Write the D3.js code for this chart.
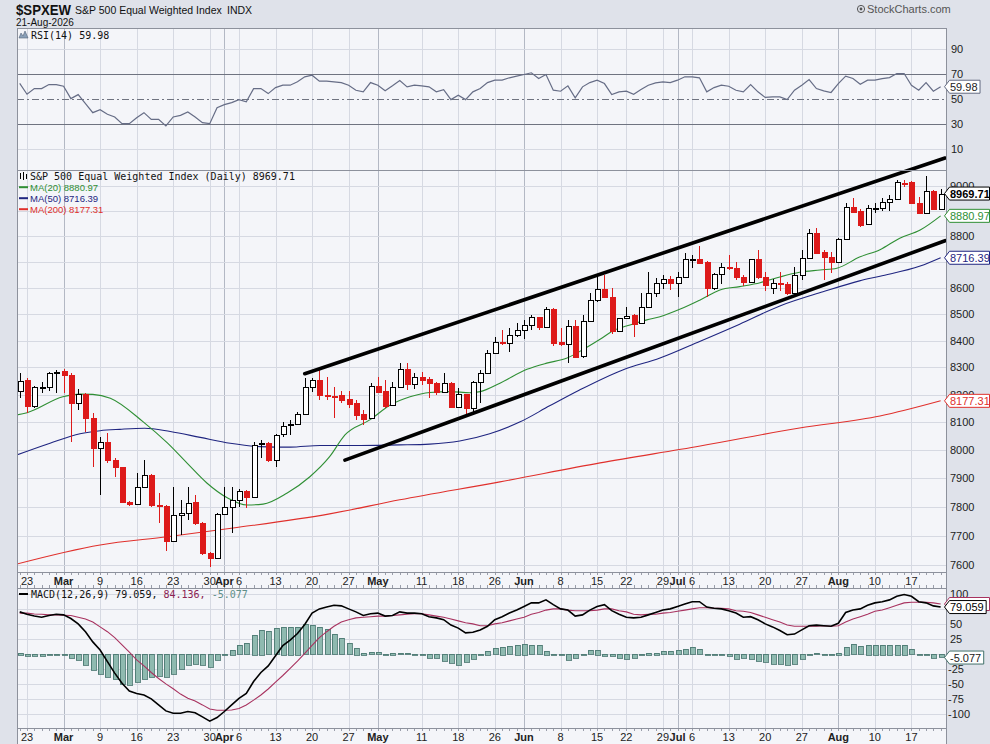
<!DOCTYPE html>
<html>
<head>
<meta charset="utf-8">
<script src="https://cdn.jsdelivr.net/npm/d3@7/dist/d3.min.js"></script>
<style>
  html, body { margin: 0; padding: 0; background: #dfe2ea; }
  svg { display: block; font-family: "Liberation Sans", Arial, sans-serif; }
  .mono { font-family: "DejaVu Sans Mono", monospace; font-size: 10px; }
</style>
</head>
<body>
<svg id="chart" width="990" height="744"></svg>
<script>
/* === $SPXEW daily candles with RSI / MA / MACD === */

// Day index 0 = 20-Feb-2026 ... 126 = 21-Aug-2026 (trading days only)
const tickLabels = [
  [1, "23", false], [6, "Mar", true], [11, "9", false], [16, "16", false], [21, "23", false],
  [26, "30", false], [28, "Apr", true], [30, "6", false], [35, "13", false], [40, "20", false],
  [45, "27", false], [49, "May", true], [55, "11", false], [60, "18", false], [65, "26", false],
  [69, "Jun", true], [74, "8", false], [79, "15", false], [83, "22", false], [88, "29", false],
  [90, "Jul", true], [92, "6", false], [97, "13", false], [102, "20", false], [107, "27", false],
  [112, "Aug", true], [117, "10", false], [122, "17", false]
];

// [open, high, low, close]
const ohlc = [
  [8214,8279,8187,8251],[8254,8261,8133,8160],[8160,8232,8152,8227],[8227,8248,8205,8229],[8229,8285,8214,8279],
  [8279,8291,8205,8285],[8287,8293,8206,8272],[8272,8280,8030,8168],[8168,8219,8145,8202],[8202,8205,8065,8114],
  [8114,8132,7940,8006],[8006,8048,7841,8030],[8030,8060,7952,7964],[7964,7971,7905,7938],[7938,7940,7812,7817],
  [7817,7820,7803,7809],[7809,7917,7805,7870],[7870,7964,7868,7911],[7911,7913,7800,7806],[7806,7847,7743,7802],
  [7802,7806,7649,7683],[7683,7870,7680,7771],[7771,7823,7702,7779],[7779,7870,7754,7814],[7817,7841,7738,7744],
  [7744,7746,7634,7640],[7640,7645,7594,7623],[7623,7778,7620,7775],[7775,7870,7771,7800],[7800,7870,7708,7823],
  [7823,7861,7800,7856],[7856,7857,7795,7835],[7835,8030,7835,8018],[8022,8036,7971,8025],[8025,8030,7958,7964],
  [7964,8056,7938,8054],[8058,8101,8045,8086],[8089,8108,8054,8093],[8093,8137,8090,8129],[8129,8260,8126,8227],
  [8227,8260,8211,8254],[8254,8303,8181,8199],[8199,8266,8181,8196],[8196,8229,8114,8195],[8199,8213,8168,8181],
  [8184,8213,8150,8166],[8168,8181,8108,8126],[8129,8144,8090,8110],[8114,8242,8112,8232],[8232,8266,8205,8211],
  [8213,8254,8150,8159],[8163,8248,8160,8227],[8227,8318,8227,8293],[8293,8316,8217,8238],[8238,8281,8219,8264],
  [8264,8285,8235,8254],[8257,8266,8187,8244],[8244,8248,8199,8211],[8211,8279,8211,8242],[8244,8246,8150,8154],
  [8154,8223,8150,8202],[8202,8204,8126,8150],[8150,8250,8126,8248],[8248,8291,8168,8281],[8281,8365,8279,8355],
  [8355,8415,8353,8393],[8396,8440,8383,8390],[8390,8446,8358,8421],[8421,8465,8415,8440],[8440,8478,8405,8459],
  [8459,8497,8440,8488],[8488,8490,8440,8450],[8450,8528,8446,8518],[8518,8522,8380,8392],[8396,8446,8380,8387],
  [8387,8478,8315,8455],[8455,8478,8336,8340],[8342,8497,8336,8475],[8475,8580,8472,8554],[8554,8650,8547,8595],
  [8595,8650,8560,8566],[8566,8598,8425,8437],[8437,8486,8432,8484],[8484,8528,8480,8493],[8497,8499,8415,8462],
  [8465,8580,8462,8526],[8526,8663,8522,8580],[8580,8637,8566,8618],[8618,8650,8595,8633],[8633,8646,8592,8620],
  [8620,8663,8566,8643],[8643,8734,8641,8710],[8708,8727,8676,8712],[8710,8761,8692,8695],[8701,8703,8564,8598],
  [8598,8656,8592,8654],[8654,8695,8615,8680],[8682,8727,8669,8676],[8676,8701,8630,8641],[8641,8650,8607,8624],
  [8624,8712,8622,8710],[8710,8746,8633,8643],[8643,8663,8589,8611],[8598,8633,8576,8620],[8620,8663,8589,8615],
  [8615,8624,8573,8581],[8581,8682,8578,8650],[8650,8746,8630,8714],[8714,8828,8710,8812],[8812,8832,8734,8736],
  [8740,8746,8630,8718],[8718,8740,8656,8701],[8701,8793,8699,8789],[8789,8931,8786,8917],[8917,8951,8895,8897],
  [8901,8907,8835,8844],[8847,8924,8844,8911],[8909,8931,8893,8913],[8913,8951,8901,8935],[8935,8964,8901,8947],
  [8947,9024,8944,9017],[9014,9024,8997,9011],[9017,9020,8928,8931],[8931,8957,8888,8891],[8891,9040,8888,8981],
  [8981,8983,8905,8907],[8907,8987,8905,8969.71]
];

// moving averages: [day index, value]
const ma20 = [
  [-0.4,8126],[1,8134],[5.9,8192],[8.25,8202],[10,8201],[12.4,8187],[16.9,8101],[20.2,8025],[22.9,7953],
  [25.6,7883],[28.4,7831],[31.1,7806],[33.3,7809],[36.6,7848],[39.7,7905],[42.4,7976],[44.5,8054],[47.9,8108],
  [50.7,8162],[53.4,8192],[56.1,8208],[58.9,8211],[61.6,8207],[63,8211],[65.7,8242],[69.4,8293],[72.1,8316],
  [74.8,8334],[77.6,8375],[79.4,8405],[81.2,8437],[83.5,8459],[85.8,8478],[87.6,8490],[90.3,8518],[93.1,8554],
  [95.8,8592],[98.5,8605],[101.3,8620],[104,8642],[106.7,8660],[109.5,8669],[111.8,8676],[114.9,8719],
  [117.7,8748],[120.4,8793],[123.2,8825],[126,8880.97]
];
const ma50 = [
  [-0.4,7982],[4.15,8024],[8.25,8058],[11,8069],[13.7,8074],[17.1,8078],[20.6,8066],[24.7,8045],[28.8,8024],
  [32.9,8012],[37,8010],[41.1,8016],[46.6,8016],[52,8018],[56.1,8021],[60.2,8032],[64.3,8058],[68.4,8100],
  [72.5,8159],[76.6,8217],[82.5,8291],[87.6,8335],[93.1,8398],[98.5,8462],[104,8531],[109.9,8585],
  [114.9,8627],[117.7,8645],[123.2,8684],[126,8716.39]
];
const ma200 = [
  [-0.4,7603],[11,7668],[20.2,7696],[29.2,7726],[42.4,7775],[52,7824],[65.7,7887],[79.4,7954],
  [93.1,8014],[106.7,8079],[117.7,8122],[126,8177.31]
];

// hand-drawn channel lines: [day index, price]
const channelUpper = [[39.0, 8277], [126.6, 9113]];
const channelLower = [[44.5, 7964], [126.6, 8783]];

const rsi = [
  62.6,54,58.5,58.5,61.7,61.7,60.4,50.5,53.7,46.5,
  39.3,41.7,38,35.9,30.5,30.5,35.3,39.3,34,34,
  28.7,35.9,37.2,39.9,35.9,31.3,30.5,43.3,45.7,47.3,
  49.7,47.9,58.5,58.5,54.5,59.3,61.2,61.2,63.9,67.9,
  69.2,64.4,64.4,63.9,63.3,61.2,57.2,55.9,63.3,61.2,
  56.7,60.7,64.9,59.9,61.2,60.7,59.9,55.9,57.7,49.7,
  53.2,49.7,55.9,58.5,63.3,65.2,65.2,67.1,68.4,69.7,
  71.1,66.5,69.7,57.2,56.4,60.7,51.1,59.9,63.3,65.2,
  62.5,53.7,55.9,56.4,54,57.7,61.2,63.1,63.9,63.3,
  65.2,67.9,67.9,67.1,55.9,59.3,61.2,60.4,57.2,55.9,
  61.7,55.9,51.5,51.9,51.9,49.7,57.2,61.2,65.7,58.5,
  56.7,55.4,62.5,68.4,66.5,62,65.2,65.2,66.5,67.3,
  70.5,70.5,61.2,57.2,63.3,56.4,59.98
];

const macd = [
  71,67,64,62,65,67,66,60,51,38,
  21,7.5,-12,-31,-48,-61,-65,-67.5,-74,-84,
  -94,-98,-98,-95,-97,-104,-111,-105,-95,-84,
  -73,-65,-45,-30,-19,-2,15,24,35,50,
  69,76,79,82,81,76,71,65,68,69,
  64,65,71,69,69,68,63,61,58,49,
  44,36,37,41,47,58,63,69,74,80,
  86,86,91,83,76,74,64,66,74,80,
  83,73,67,62,61,62,66,70,74,76,
  80,84,88,88,79,77,76,73,69,62,
  63,58,51,46,40,33,34,41,48,49,
  48,47,52,70,74,76,82,86,88,91,
  97,100,97,88,86,81,79.059
];
const signal = [
  69,69,67.5,67,66,66,65.5,65,62,59,
  54,46,38,28,16,4,-9,-19,-30,-40,
  -49,-57,-66,-73,-77.5,-84,-91,-93,-93,-92.5,
  -90,-84,-76,-67.5,-57.5,-46,-35,-23,-11,2,
  15,28,38,47,54,58,61,62,63,64,
  64,65,66,67,68,68,66,64,62,59,
  56,53,51,48,48,51,53,56,59,62,
  67,70,74,76,76,74,73,73,73,74,
  76,76,73,71,67,66,67,67,69,70,
  72,74,76,78,78,77,77,76,73,72,
  70,66,62,58,54,49,47,47,47,47,
  48,47,48,54,59,63,67,72,74,78,
  82,86,87,87,87,86,84.136
];
const hist = [
  3,-3,-3,-3,-1,-1,-1,-7,-10,-18,
  -27,-33,-38,-42,-50,-51,-47,-42,-39,-36,
  -39,-33,-25,-18,-17,-19,-22,-10,0,8,
  15,19,33,41,39,44,46,46,46,50,
  49,45,42,34,27,19,11,3,4,4,
  0,3,2,2,0,-1,-6,-6,-12,-15,
  -18,-14,-8,-2,6,10,13,14,16,18,
  15,15,6,-1,-2,-10,-7,-1,7,8,
  -3,-4,-7,-8,-7,-2,3,3,5,5,
  7,9,12,9,0,-2,-2,-4,-9,-7,
  -9,-11,-14,-16,-17,-19,-16,-9,0,2,
  0,-1,3,13,17,14,16,16,16,16,
  16,16,9,0,-1,-6,-5.077
];

const priceTicks = [7600, 7700, 7800, 7900, 8000, 8100, 8200, 8300, 8400, 8500, 8600, 8700, 8800, 8900, 9000];
const rsiTicks = [10, 30, 50, 70, 90];
const macdTicks = [-100, -75, -50, -25, 0, 25, 50, 75, 100];

// --- layout ---
const L = 17, R = 946;
const rsiTop = 28, mainTop = 170, mainBot = 572, macdTop = 588, macdBot = 728;
const RED = "#dd1a1a", GREEN = "#2f8f34", NAVY = "#1f2580", MA_RED = "#e0302c";
const PLOT_BG = "#f4f5f9", GRID = "#d6d9e2", GRID_MONTH = "#b3b8c4", FRAME = "#8d919c";

const x = d3.scaleLinear().domain([-0.37, 126.73]).range([L, R]);
const yP = d3.scaleLog().domain([7576, 9064.5]).range([mainBot, mainTop]);
const yR = d3.scaleLinear().domain([-6.4, 106.8]).range([mainTop, rsiTop]);
const yM = d3.scaleLinear().domain([-122.5, 110.8]).range([macdBot, macdTop]);

const px = v => Math.round(v) + 0.5;
const svg = d3.select("#chart");

svg.append("rect").attr("width", 990).attr("height", 744).attr("fill", "#dfe2ea");

// plot backgrounds (incl. date strips)
svg.append("rect").attr("x", L).attr("y", rsiTop).attr("width", R - L).attr("height", macdTop - rsiTop).attr("fill", PLOT_BG);
svg.append("rect").attr("x", L).attr("y", macdTop).attr("width", R - L).attr("height", 744 - macdTop).attr("fill", PLOT_BG);

// --- grid ---
const grid = svg.append("g").attr("shape-rendering", "crispEdges");
tickLabels.forEach(([d, , bold]) => {
  const gx = px(x(d));
  [[rsiTop, mainBot], [macdTop, macdBot]].forEach(([a, b]) => {
    grid.append("line").attr("x1", gx).attr("x2", gx).attr("y1", a).attr("y2", b)
      .attr("stroke", bold ? GRID_MONTH : GRID).attr("stroke-width", 1);
  });
});
priceTicks.forEach(p => {
  grid.append("line").attr("x1", L).attr("x2", R).attr("y1", px(yP(p))).attr("y2", px(yP(p))).attr("stroke", GRID);
});
[10, 90].forEach(v => {
  grid.append("line").attr("x1", L).attr("x2", R).attr("y1", px(yR(v))).attr("y2", px(yR(v))).attr("stroke", GRID);
});
macdTicks.forEach(v => {
  grid.append("line").attr("x1", L).attr("x2", R).attr("y1", px(yM(v))).attr("y2", px(yM(v))).attr("stroke", GRID);
});

// RSI reference lines
[70, 30].forEach(v => {
  grid.append("line").attr("x1", L).attr("x2", R).attr("y1", px(yR(v))).attr("y2", px(yR(v)))
    .attr("stroke", "#6f7380").attr("stroke-width", 1);
});
grid.append("line").attr("x1", L).attr("x2", R).attr("y1", px(yR(50))).attr("y2", px(yR(50)))
  .attr("stroke", "#6f7380").attr("stroke-dasharray", "7,3,2,3");

// --- RSI line ---
svg.append("path")
  .datum(rsi)
  .attr("fill", "none")
  .attr("stroke", "#666d86")
  .attr("stroke-width", 1.2)
  .attr("d", d3.line().x((d, i) => x(i)).y(d => yR(d)));

// --- moving averages ---
const maLine = d3.line().x(d => x(d[0])).y(d => yP(d[1])).curve(d3.curveMonotoneX);
const plotClip = svg.append("clipPath").attr("id", "mainclip");
plotClip.append("rect").attr("x", L).attr("y", mainTop).attr("width", R - L).attr("height", mainBot - mainTop);
const mainG = svg.append("g").attr("clip-path", "url(#mainclip)");

[[ma200, MA_RED], [ma50, NAVY], [ma20, GREEN]].forEach(([s, col]) => {
  mainG.append("path").datum(s).attr("fill", "none").attr("stroke", col).attr("stroke-width", 1.1).attr("d", maLine);
});

// --- candles ---
const candle = mainG.selectAll("g.candle")
  .data(ohlc)
  .join("g")
  .attr("class", "candle")
  .attr("shape-rendering", "crispEdges");

candle.each(function(d, i) {
  const [o, h, l, c] = d;
  const prev = i > 0 ? ohlc[i - 1][3] : o;
  const col = c < prev ? RED : "#000";
  const cx = px(x(i));
  const g = d3.select(this);
  g.append("line").attr("x1", cx).attr("x2", cx).attr("y1", yP(h)).attr("y2", yP(l)).attr("stroke", col);
  const top = Math.round(yP(Math.max(o, c)));
  const bot = Math.round(yP(Math.min(o, c)));
  g.append("rect")
    .attr("x", cx - 2.5)
    .attr("y", top + 0.5)
    .attr("width", 5)
    .attr("height", Math.max(1, bot - top))
    .attr("fill", c < o ? col : "#ffffff")
    .attr("stroke", col);
});

// --- channel lines (drawn over the panel edge like the original) ---
[channelUpper, channelLower].forEach(s => {
  svg.append("line")
    .attr("x1", x(s[0][0])).attr("y1", yP(s[0][1]))
    .attr("x2", x(s[1][0])).attr("y2", yP(s[1][1]))
    .attr("stroke", "#000").attr("stroke-width", 3.6).attr("stroke-linecap", "round");
});

// --- MACD ---
svg.append("g").attr("shape-rendering", "crispEdges")
  .selectAll("rect")
  .data(hist)
  .join("rect")
  .attr("x", (d, i) => Math.round(x(i)) - 2)
  .attr("width", 5)
  .attr("y", d => Math.round(yM(Math.max(0, d))))
  .attr("height", d => Math.max(1, Math.round(Math.abs(yM(d) - yM(0)))))
  .attr("fill", "#8fbab0")
  .attr("stroke", "#42716a")
  .attr("stroke-width", 0.8);

svg.append("path").datum(signal).attr("fill", "none").attr("stroke", "#a8325f").attr("stroke-width", 1.1)
  .attr("d", d3.line().x((d, i) => x(i)).y(d => yM(d)));
svg.append("path").datum(macd).attr("fill", "none").attr("stroke", "#000").attr("stroke-width", 1.6)
  .attr("d", d3.line().x((d, i) => x(i)).y(d => yM(d)));

// --- daily ticks on date strips ---
const ticks = svg.append("g").attr("shape-rendering", "crispEdges");
ohlc.forEach((d, i) => {
  const tx = px(x(i));
  [[mainBot, mainBot + 3], [macdTop - 3, macdTop], [macdBot, macdBot + 3]].forEach(([a, b]) => {
    ticks.append("line").attr("x1", tx).attr("x2", tx).attr("y1", a).attr("y2", b).attr("stroke", "#9a9eaa");
  });
});

// --- panel frames ---
const frames = svg.append("g").attr("fill", "none").attr("stroke", FRAME).attr("shape-rendering", "crispEdges");
frames.append("rect").attr("x", L + 0.5).attr("y", rsiTop + 0.5).attr("width", R - L).attr("height", mainTop - rsiTop);
frames.append("rect").attr("x", L + 0.5).attr("y", mainTop + 0.5).attr("width", R - L).attr("height", mainBot - mainTop);
frames.append("rect").attr("x", L + 0.5).attr("y", macdTop + 0.5).attr("width", R - L).attr("height", macdBot - macdTop);
frames.append("rect").attr("x", L + 0.5).attr("y", mainBot + 0.5).attr("width", R - L).attr("height", macdTop - mainBot);
frames.append("rect").attr("x", L + 0.5).attr("y", macdBot + 0.5).attr("width", R - L).attr("height", 744 - macdBot);

// --- date labels ---
[mainBot + 12.5, macdBot + 13].forEach(ty => {
  svg.append("g").selectAll("text")
    .data(tickLabels)
    .join("text")
    .attr("x", d => x(d[0]))
    .attr("y", ty)
    .attr("text-anchor", "middle")
    .attr("font-size", 11)
    .attr("font-weight", d => d[2] ? "bold" : "normal")
    .attr("fill", "#222")
    .text(d => d[1]);
});

// --- right axes ---
const last = ohlc.length - 1;
const priceTags = [ohlc[last][3], ma20[ma20.length - 1][1], ma50[ma50.length - 1][1], ma200[ma200.length - 1][1]];
const macdTags = [macd[last], hist[last]];
// labels sitting right under a value tag are hidden by it in the original
const clearOf = (yv, tagYs) => tagYs.every(t => Math.abs(t - yv) > 6);

const axisG = svg.append("g").attr("font-size", 11).attr("fill", "#222");
priceTicks.filter(p => clearOf(yP(p), priceTags.map(yP)))
  .forEach(p => axisG.append("text").attr("x", 950).attr("y", yP(p) + 4).text(p));
rsiTicks.forEach(v => axisG.append("text").attr("x", 951).attr("y", yR(v) + 4).text(v));
macdTicks.filter(v => clearOf(yM(v), macdTags.map(yM)))
  .forEach(v => axisG.append("text").attr("x", v < 0 ? 948 : 950).attr("y", yM(v) + 4).text(v));

// value tags
function tagBox(y, w, stroke) {
  return svg.append("path")
    .attr("d", `M944.5,${y} L949.5,${y - 6.5} H${Math.min(989.5, 952.5 + w)} V${y + 6.5} H949.5 Z`)
    .attr("fill", "#ffffff").attr("stroke", stroke);
}
function tag(y, label, stroke, fill, bold) {
  const g = svg.append("g");
  const t = g.append("text").attr("x", 950).attr("y", y + 4).attr("font-size", 11)
    .attr("font-weight", bold ? "bold" : "normal").attr("fill", fill).text(label);
  const w = t.node().getComputedTextLength();
  g.insert("path", "text")
    .attr("d", `M944.5,${y} L949.5,${y - 6.5} H${Math.min(989.5, 952.5 + w)} V${y + 6.5} H949.5 Z`)
    .attr("fill", "#ffffff").attr("stroke", stroke);
}
tag(yR(rsi[last]), rsi[last].toFixed(2), "#646b82", "#222", false);
tag(yP(ma200[ma200.length - 1][1]), ma200[ma200.length - 1][1].toFixed(2), MA_RED, MA_RED, false);
tag(yP(ma50[ma50.length - 1][1]), ma50[ma50.length - 1][1].toFixed(2), NAVY, NAVY, false);
tag(yP(ma20[ma20.length - 1][1]), ma20[ma20.length - 1][1].toFixed(2), GREEN, GREEN, false);
tag(yP(ohlc[last][3]), ohlc[last][3].toFixed(2), "#000", "#000", true);
tag(yM(hist[last]), hist[last].toFixed(3), "#42716a", "#222", false);
tagBox(yM(signal[last]), 39, "#a8325f");   // signal tag, covered by the MACD tag
tag(yM(macd[last]), macd[last].toFixed(3), "#000", "#000", false);

// --- header ---
svg.append("text").attr("x", 16).attr("y", 15).attr("font-size", 14).attr("font-weight", "bold")
  .attr("textLength", 55).attr("lengthAdjust", "spacingAndGlyphs")
  .attr("fill", "#111").text("$SPXEW");
svg.append("text").attr("x", 75).attr("y", 14).attr("font-size", 10.5).attr("fill", "#111")
  .text("S&P 500 Equal Weighted Index");
svg.append("text").attr("x", 227).attr("y", 14).attr("font-size", 10.5).attr("fill", "#111").text("INDX");
svg.append("text").attr("x", 16).attr("y", 26).attr("font-size", 10).attr("fill", "#111").text("21-Aug-2026");
svg.append("circle").attr("cx", 861).attr("cy", 9).attr("r", 3.6).attr("fill", "none").attr("stroke", "#555").attr("stroke-width", 1);
svg.append("circle").attr("cx", 861).attr("cy", 9).attr("r", 1.4).attr("fill", "#555");
svg.append("text").attr("x", 867).attr("y", 13).attr("font-size", 11).attr("fill", "#555").text("StockCharts.com");

// --- legends ---
// RSI
svg.append("path").attr("d", "M19,38 L21,33 L23,36 L25,31 L28,38 Z").attr("fill", "#8aa0b8").attr("stroke", "#56657a").attr("stroke-width", 0.6);
svg.append("text").attr("class", "mono").attr("x", 31).attr("y", 38.5).attr("fill", "#111").text("RSI(14) 59.98");

// price
const icon = svg.append("g").attr("shape-rendering", "crispEdges");
[[20.5, 173, 179], [23.5, 172, 180], [26.5, 174, 179]].forEach(([ix, a, b]) => {
  icon.append("line").attr("x1", ix).attr("x2", ix).attr("y1", a).attr("y2", b).attr("stroke", "#000");
});
svg.append("text").attr("class", "mono").attr("x", 30).attr("y", 180).attr("fill", "#111")
  .text("S&P 500 Equal Weighted Index (Daily) 8969.71");
[["MA(20) 8880.97", GREEN, 190.7], ["MA(50) 8716.39", NAVY, 201.7], ["MA(200) 8177.31", MA_RED, 212.7]].forEach(([t, col, ty]) => {
  svg.append("line").attr("x1", 19).attr("x2", 28).attr("y1", ty - 3.5).attr("y2", ty - 3.5).attr("stroke", col).attr("stroke-width", 2);
  svg.append("text").attr("x", 30).attr("y", ty).attr("font-size", 9.5).attr("fill", col).text(t);
});

// MACD
svg.append("line").attr("x1", 19).attr("x2", 28).attr("y1", 594).attr("y2", 594).attr("stroke", "#000").attr("stroke-width", 2);
const mt = svg.append("text").attr("class", "mono").attr("x", 31).attr("y", 597.5).attr("fill", "#111");
mt.append("tspan").text("MACD(12,26,9) 79.059, ");
mt.append("tspan").attr("fill", "#8b2252").text("84.136, ");
mt.append("tspan").attr("fill", "#5f8f88").text("-5.077");
</script>
</body>
</html>
